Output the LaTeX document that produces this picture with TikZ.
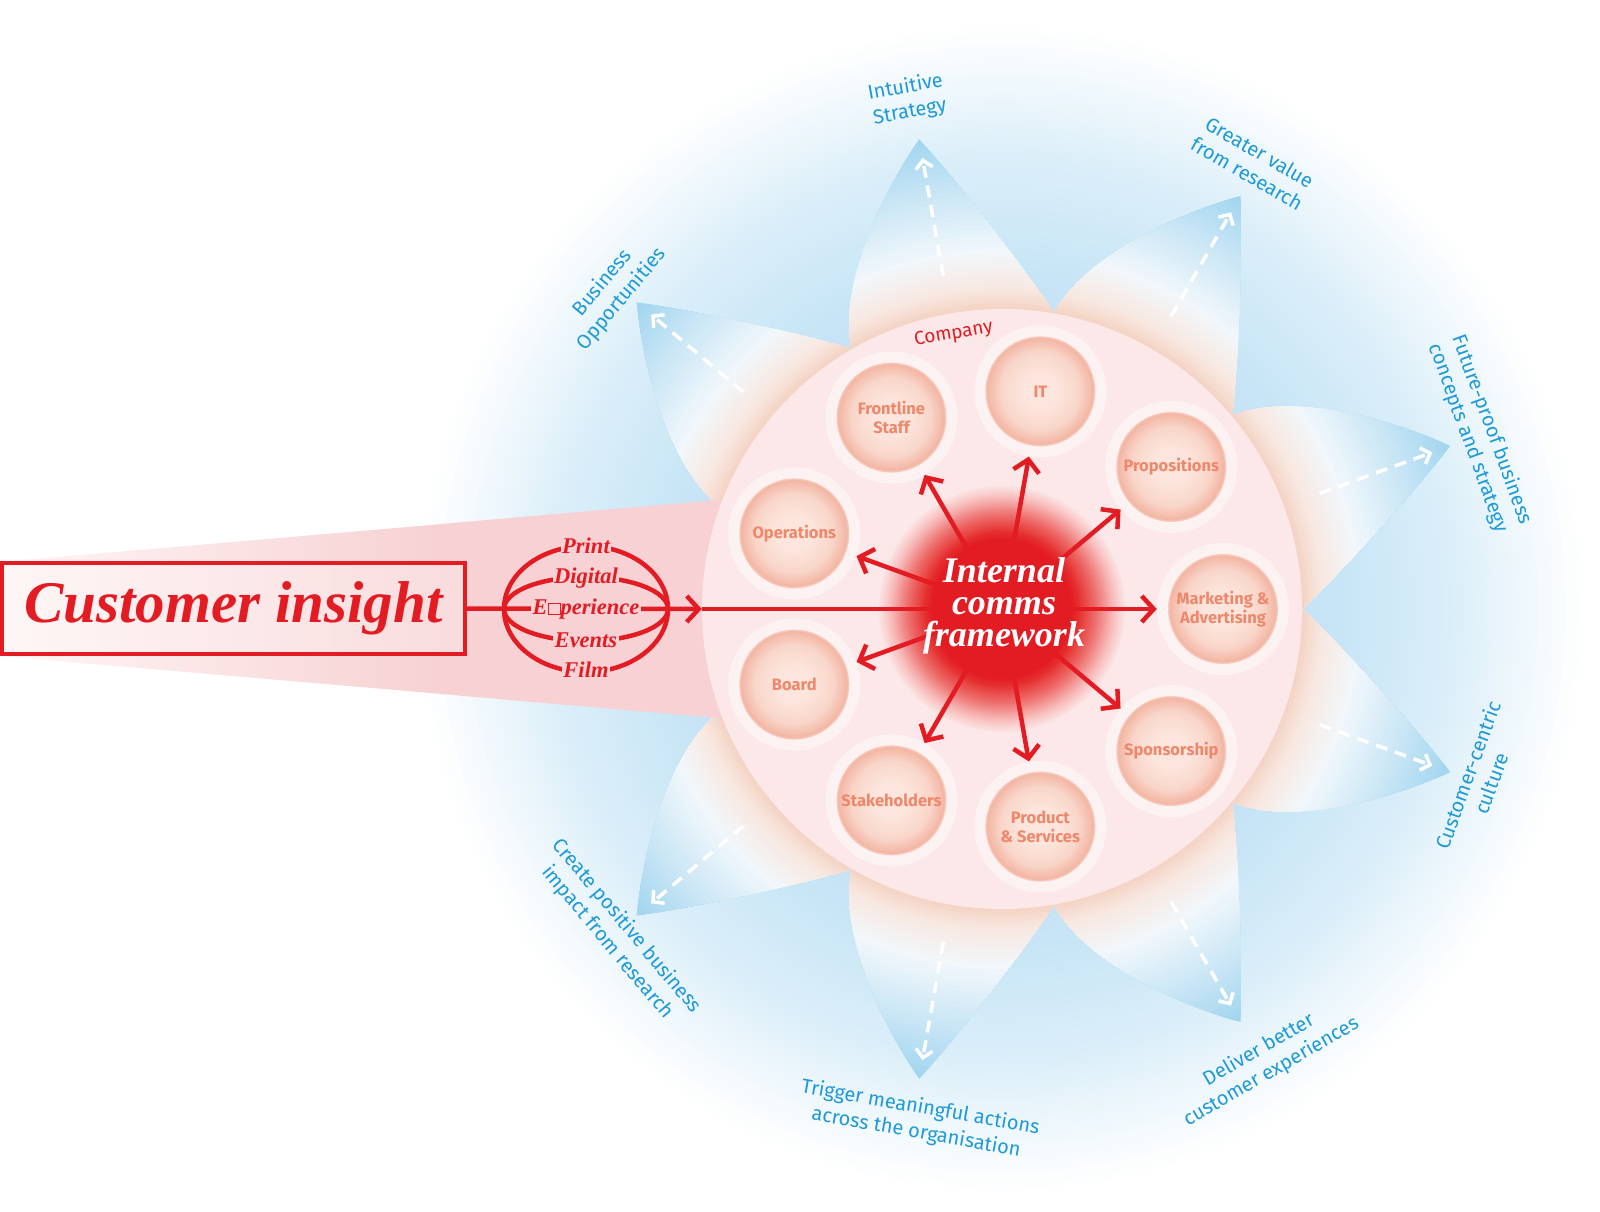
\documentclass[tikz,border=0pt]{standalone}
\usepackage{fontspec}
\setsansfont{Fira Sans}
\newfontfamily\scriptfam{Liberation Serif}
\usetikzlibrary{arrows.meta}

\definecolor{cired}{HTML}{E31B23}
\definecolor{lblblue}{HTML}{1D9AD7}
\definecolor{salmon}{HTML}{EF876A}
\definecolor{compfill}{HTML}{FCE8E8}
\definecolor{ringfill}{HTML}{FDF2F2}
\definecolor{beamL}{HTML}{FFF6F6}
\definecolor{beamR}{HTML}{F7D1D3}
\definecolor{boxL}{HTML}{FEF6F6}
\definecolor{boxR}{HTML}{F9DCDD}
\definecolor{bgA}{HTML}{C4E3F5}
\definecolor{bgB}{HTML}{C9E6F6}
\definecolor{bgC}{HTML}{DAEEF9}
\definecolor{bgD}{HTML}{EEF7FC}
\definecolor{pA}{HTML}{F3CDBC}
\definecolor{pB}{HTML}{F8E8E1}
\definecolor{pC}{HTML}{F1F7FB}
\definecolor{pD}{HTML}{CBE7F6}
\definecolor{pE}{HTML}{A0D5EF}
\definecolor{bA}{HTML}{FCE5DC}
\definecolor{bB}{HTML}{F9D6CA}
\definecolor{bC}{HTML}{F5C0AF}
\definecolor{bD}{HTML}{F3B7A5}
\definecolor{bE}{HTML}{F7CABD}
\definecolor{cgA}{HTML}{E5302F}
\definecolor{cgB}{HTML}{EE6F6D}
\definecolor{cgC}{HTML}{F7BBBA}

% concentric discrete gradient: outer r, inner r, outer colour, inner colour, steps
\newcommand\gradring[5]{%
  \foreach \k in {0,...,#5}{%
    \pgfmathsetmacro\rr{#1-(#1-#2)*\k/#5}%
    \pgfmathsetmacro\pp{100*\k/#5}%
    \fill[#4!\pp!#3] (0,0) circle (\rr);
  }}

\tikzset{
  redline/.style={draw=cired, line width=4.5pt},
  redarrow/.style={redline, -{Straight Barb[length=12pt,width=26pt]}},
  whitedash/.style={draw=white, line width=3.5pt, dash pattern=on 12pt off 8pt, -{Straight Barb[length=8pt,width=17pt]}},
  lbl/.style={text=lblblue, font=\sffamily\fontsize{20}{25}\selectfont, align=center, inner sep=0pt},
  ring/.style={circle, fill=ringfill, minimum size=132pt, inner sep=0pt},
  balltext/.style={text=salmon, font=\sffamily\fontsize{16.5}{19}\selectfont\bfseries, align=center, inner sep=0pt},
  globetext/.style={text=cired, fill=beamR, inner sep=1.5pt, font=\scriptfam\fontsize{22.5}{22}\selectfont\bfseries\itshape},
}

\begin{document}
\begin{tikzpicture}[x=1pt,y=1pt]
\useasboundingbox (-1002,-602) rectangle (598,609);
\fill[white] (-1002,-602) rectangle (598,609);

% background glow
\gradring{585}{520}{white}{bgD}{12}
\gradring{520}{450}{bgD}{bgC}{12}
\gradring{450}{350}{bgC}{bgB}{12}
\gradring{350}{300}{bgB}{bgA}{6}

% petals
\foreach \ang/\s in {20/1,60/1,100/1,140/1,-20/-1,-60/-1,-100/-1,-140/-1}{
  \begin{scope}
    \path[clip, rotate=\ang, yscale=\s] (477,0) .. controls (425,50) and (345,105) .. (282,103) -- (0,0) -- (282,-103) .. controls (345,-75) and (425,-32) .. (477,0) -- cycle;
    \gradring{478}{420}{pE}{pD}{12}
    \gradring{420}{360}{pD}{pC}{12}
    \gradring{360}{322}{pC}{pB}{10}
    \gradring{322}{296}{pB}{pA}{8}
  \end{scope}
}

% dashed white arrows on petals
\foreach \ang in {20,60,100,140,-20,-60,-100,-140}{
  \coordinate (ds\ang) at (\ang:338);
  \coordinate (de\ang) at (\ang:458);
  \draw[whitedash] (ds\ang) -- (de\ang);
}

% beam
\shade[left color=beamL, right color=beamR] (-1002,47) -- (-560,85) -- (-560,-85) -- (-1002,-47) -- cycle;
\fill[beamR] (-561,85) -- (-250,112) -- (-250,-112) -- (-561,-85) -- cycle;

% company circle
\node[circle, fill=compfill, minimum size=600pt, inner sep=0pt] (company) at (0,0) {};
\node[text=cired, font=\sffamily\fontsize{19}{22}\selectfont, rotate=10] (comptext) at (100:279) {Company};

% core glow
\gradring{125}{112}{compfill}{cgC}{6}
\gradring{112}{95}{cgC}{cgB}{8}
\gradring{95}{78}{cgB}{cgA}{8}
\gradring{78}{70}{cgA}{cired}{4}
\node[circle, fill=cired, minimum size=140pt, inner sep=0pt] (core) at (0,0) {};

% small circles
\foreach \a/\n/\txt in {0/mk/{Marketing \&\\Advertising}, 40/pr/{Propositions}, 80/it/{IT}, 120/fs/{Frontline\\Staff}, 160/op/{Operations}, 200/bd/{Board}, 240/sh/{Stakeholders}, 280/ps/{Product\\\& Services}, 320/sp/{Sponsorship}}{
  \node[ring] (\n) at (\a:221) {};
  \begin{scope}[shift={(\a:221)}]
    \gradring{55}{53}{bE}{bD}{2}
    \gradring{53}{49.5}{bD}{bC}{3}
    \gradring{49.5}{40}{bC}{bB}{6}
    \gradring{40}{20}{bB}{bA}{8}
  \end{scope}
  \node[balltext] (\n-t) at (\a:221) {\txt};
}

% red arrows
\foreach \n in {mk,pr,it,fs,op,bd,sh,ps,sp}{
  \draw[redarrow] (core) -- (\n);
}

% core text
\node[text=white, font=\scriptfam\fontsize{36}{32}\selectfont\bfseries\itshape, align=center, inner sep=0pt] (coretext) at (2,3) {Internal\\comms\\framework};

% customer insight box
\node[draw=cired, line width=4.5pt, left color=boxL, right color=boxR, minimum width=463pt, minimum height=91pt, inner sep=0pt, text=cired, font=\scriptfam\fontsize{59}{59}\selectfont\bfseries\itshape] (box) at (-768.5,0.5) {Customer insight};

% incoming line
\draw[redline, -{Straight Barb[length=12pt,width=26pt]}] (box.east) -- (company.west);
\draw[redline] (company.west) -- (core);

% globe
\draw[redline] (-416,0) ellipse [x radius=82, y radius=63];
\draw[redline] (-498,0) arc[start angle=180, end angle=0, x radius=82, y radius=32];
\draw[redline] (-498,0) arc[start angle=180, end angle=360, x radius=82, y radius=32];
\node[globetext] (g1) at (-416,63) {Print};
\node[globetext] (g2) at (-416,31) {Digital};
\node[globetext] (g3) at (-416,0) {E{\setlength\fboxsep{0pt}\setlength\fboxrule{0.8pt}\fbox{\phantom{x}}}perience};
\node[globetext] (g4) at (-416,-31) {Events};
\node[globetext] (g5) at (-416,-61) {Film};

% outer labels
\node[lbl, rotate=10] (l1) at (100.5:518) {Intuitive\\Strategy};
\node[lbl, rotate=-30] (l2) at (60.6:512) {Greater value\\from research};
\node[lbl, rotate=50] (l3) at (140.8:503) {Business\\Opportunities};
\node[lbl, rotate=-70] (l4) at (20.1:509) {Future-proof business\\concepts and strategy};
\node[lbl, rotate=70] (l5) at (-19.6:507) {Customer-centric\\culture};
\node[lbl, rotate=30] (l6) at (-59.8:523) {Deliver better\\customer experiences};
\node[lbl, rotate=-10] (l7) at (-99.3:518) {Trigger meaningful actions\\across the organisation};
\node[lbl, rotate=-50] (l8) at (-139.8:504) {Create positive business\\impact from research};
\end{tikzpicture}
\end{document}
